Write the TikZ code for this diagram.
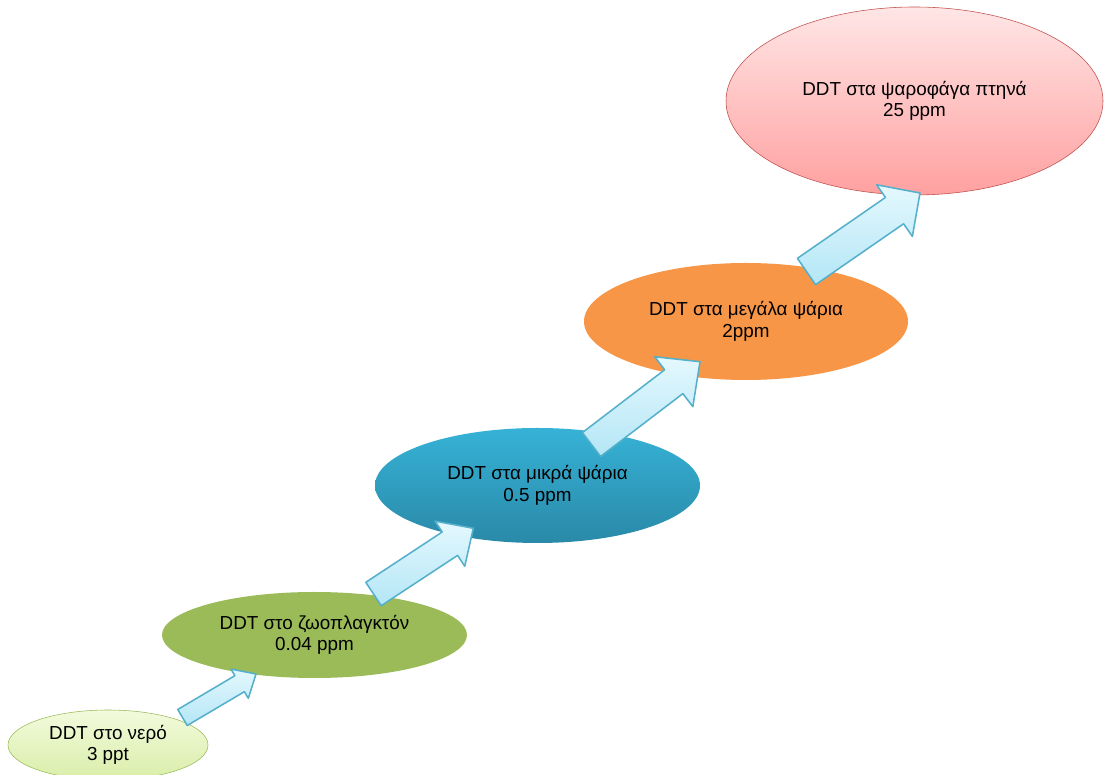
\documentclass[tikz,border=0pt]{standalone}
\usepackage{fontspec}
\setmainfont{Liberation Sans}
\usetikzlibrary{calc}
\usetikzlibrary{shapes.geometric}
\definecolor{arrowEdge}{HTML}{55B0CB}
\definecolor{arrowTop}{HTML}{E4F8FE}
\definecolor{arrowBottom}{HTML}{B4E6F6}
\definecolor{waterTop}{HTML}{F3FADD}
\definecolor{waterBottom}{HTML}{D9EEA9}
\definecolor{olive}{HTML}{9BBB59}
\definecolor{tealTop}{HTML}{36B2D6}
\definecolor{tealBottom}{HTML}{2A89A8}
\definecolor{orangeFill}{HTML}{F79646}
\definecolor{pinkTop}{HTML}{FFE6E6}
\definecolor{pinkBottom}{HTML}{FFA0A0}
\definecolor{redEdge}{HTML}{C0504D}
\tikzset{stage/.style = {ellipse, inner sep=0pt, align=center, font=\fontsize{13.4}{15.4}\selectfont}}
\tikzset{flow/.style = {draw=arrowEdge, line width=1.1pt, line join=round, top color=arrowTop, bottom color=arrowBottom}}
% block arrow: tail, tip, shaft half width, head half width, head length (in px)
\newcommand{\flowarrow}[5]{%
  \coordinate (#1n) at ($(#2)!#5*\px!(#1)$);
  \filldraw[flow] ($(#1)!#3*\px!90:(#2)$) -- ($(#1n)!#3*\px!90:(#2)$) -- ($(#1n)!#4*\px!90:(#2)$) -- (#2)
    -- ($(#1n)!#4*\px!-90:(#2)$) -- ($(#1n)!#3*\px!-90:(#2)$) -- ($(#1)!#3*\px!-90:(#2)$) -- cycle;
}

\begin{document}
\begin{tikzpicture}[x=0.025cm, y=0.025cm]
    \def\px{0.025cm}
    \useasboundingbox (0,0) rectangle (1104,775);

    \node[stage, draw=olive, top color=waterTop, bottom color=waterBottom,
          minimum width=200*\px, minimum height=70*\px] (water) at (108,30)
          {DDT στο νερό\\3 ppt};
    \node[stage, fill=olive, minimum width=305*\px, minimum height=86*\px] (zoo) at (314.5,140)
          {DDT στο ζωοπλαγκτόν\\0.04 ppm};
    \node[stage, top color=tealTop, bottom color=tealBottom,
          minimum width=325*\px, minimum height=115*\px] (smallfish) at (537.5,289.5)
          {DDT στα μικρά ψάρια\\0.5 ppm};
    \node[stage, fill=orangeFill, minimum width=324*\px, minimum height=117*\px] (bigfish) at (746,453.5)
          {DDT στα μεγάλα ψάρια\\2ppm};
    \node[stage, draw=redEdge, top color=pinkTop, bottom color=pinkBottom,
          minimum width=377*\px, minimum height=188*\px] (birds) at (914.5,674)
          {DDT στα ψαροφάγα πτηνά\\25 ppm};

    \coordinate (a1) at (182.5,57.5);
    \coordinate (a1e) at (256,101);
    \coordinate (a2) at (373.5,181);
    \coordinate (a2e) at (473.3,246.7);
    \coordinate (a3) at (591.5,330.5);
    \coordinate (a3e) at (700,413.3);
    \coordinate (a4) at (806.5,503.5);
    \coordinate (a4e) at (920,582);

    \flowarrow{a1}{a1e}{9.3}{17}{19}
    \flowarrow{a2}{a2e}{14}{27}{28}
    \flowarrow{a3}{a3e}{15}{31.4}{33}
    \flowarrow{a4}{a4e}{16}{31.4}{31}
\end{tikzpicture}
\end{document}
